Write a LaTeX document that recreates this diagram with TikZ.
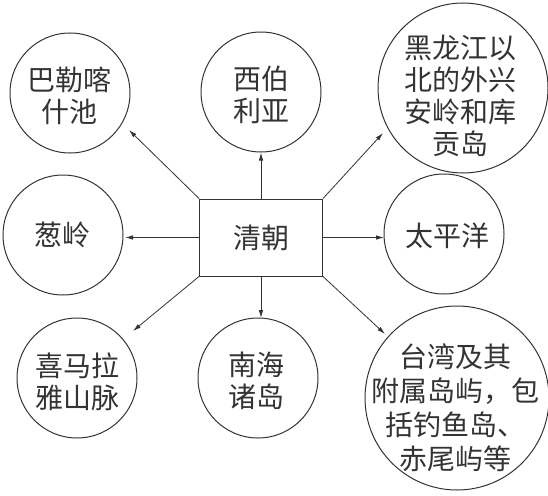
\documentclass[tikz,border=0pt]{standalone}
\usepackage{fontspec}
\newfontfamily\cjk{Noto Sans CJK SC}
\usetikzlibrary{arrows.meta}
\definecolor{ink}{HTML}{333333}
\begin{document}
\begin{tikzpicture}[x=1pt,y=-1pt,
  circ/.style={draw=ink,line width=1pt,circle,minimum size=#1,inner sep=0pt},
  txt/.style={text=ink,font=\cjk\fontsize{28}{32}\selectfont,align=center,inner sep=0pt},
  arr/.style={draw=ink,line width=0.8pt,-{Latex[length=8pt,width=4.5pt]}}]
\useasboundingbox (0,0) rectangle (548,495);
% circles
\node[circ=120pt] (c1) at (70,93) {};
\node[circ=120pt] (c2) at (261,92) {};
\node[circ=170pt] (c3) at (463,88) {};
\node[circ=120pt] (c4) at (63,235) {};
\node[circ=120pt] (c5) at (444,234) {};
\node[circ=120pt] (c6) at (77,378) {};
\node[circ=120pt] (c7) at (258,378) {};
\node[circ=184pt] (c8) at (457,398) {};
% texts
\node[txt] (t1) at (69,96) {巴勒喀\\什池};
\node[txt] (t2) at (261,95) {西伯\\利亚};
\node[txt] (t3) at (460,96) {黑龙江以\\北的外兴\\安岭和库\\贡岛};
\node[txt] (t4) at (62,235) {葱岭};
\node[txt] (t5) at (447,236) {太平洋};
\node[txt] (t6) at (77,382) {喜马拉\\雅山脉};
\node[txt] (t7) at (256,381) {南海\\诸岛};
\node[txt,font=\cjk\fontsize{28}{34}\selectfont] (t8) at (455,408) {台湾及其\\附属岛屿，包\\括钓鱼岛、\\赤尾屿等};
% centre box
\node[draw=ink,line width=1pt,minimum width=123pt,minimum height=77pt,inner sep=0pt,
      text=ink,font=\cjk\fontsize{28}{32}\selectfont] (qc) at (261,237.5) {清朝};
% arrow ends
\coordinate (a1) at (129,130);
\coordinate (a3) at (383,133);
\coordinate (a4) at (125,237.5);
\coordinate (a5) at (384,237.5);
\coordinate (a6) at (133,331);
\coordinate (a7) at (261,318);
\coordinate (a8) at (385,334);
\draw[arr] (qc.north west) -- (a1);
\draw[arr] (qc.north) -- (c2.south);
\draw[arr] (qc.north east) -- (a3);
\draw[arr] (qc.west) -- (a4);
\draw[arr] (qc.east) -- (a5);
\draw[arr] (qc.south west) -- (a6);
\draw[arr] (qc.south) -- (a7);
\draw[arr] (qc.south east) -- (a8);
\end{tikzpicture}
\end{document}
